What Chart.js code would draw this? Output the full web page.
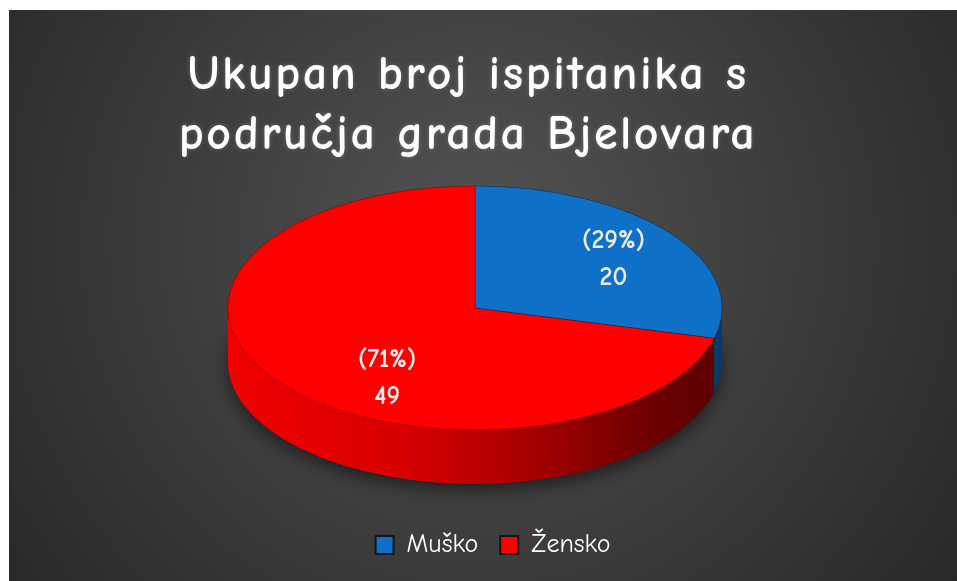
<!DOCTYPE html>
<html>
<head>
<meta charset="utf-8">
<script src="https://cdn.jsdelivr.net/npm/chart.js@4.4.1/dist/chart.umd.min.js"></script>
<style>
  html, body { margin: 0; padding: 0; background: #fff; }
  #wrap { position: absolute; left: 9px; top: 10px; width: 948px; height: 571px; }
</style>
</head>
<body>
<div id="wrap"><canvas id="c"></canvas></div>
<script>
// podaci
const categories = ['Muško', 'Žensko'];
const counts = [20, 49];
const titleLines = ['Ukupan broj ispitanika s', 'područja grada Bjelovara'];

const FONT = "'Comic Sans MS', 'Comic Neue', 'Open Sans', sans-serif";
const topColors = ['#0f70c8', '#ff0000'];
// pomak natpisa unutar isječka (fx, fy od polumjera)
const labelPlace = [[0.71, 0.66], [0.45, 0.93]];

function sideFill(ctx, i, x, r) {
  const g = ctx.createLinearGradient(x - r, 0, x + r, 0);
  if (i === 0) {
    g.addColorStop(0, '#0b4f90');
    g.addColorStop(1, '#083a68');
  } else {
    g.addColorStop(0, '#f00000');
    g.addColorStop(0.35, '#d80000');
    g.addColorStop(0.6, '#a80000');
    g.addColorStop(0.85, '#6e0000');
    g.addColorStop(1, '#5a0000');
  }
  return g;
}

const pie3d = {
  id: 'pie3d',
  beforeDraw(chart) {
    const { ctx, width, height } = chart;
    const g = ctx.createRadialGradient(470, 230, 20, 470, 230, 620);
    g.addColorStop(0, '#515151');
    g.addColorStop(1, '#262626');
    ctx.save();
    ctx.fillStyle = g;
    ctx.fillRect(0, 0, width, height);
    ctx.restore();
  },
  beforeDatasetsDraw(chart, args, opts) {
    const ctx = chart.ctx;
    const arcs = chart.getDatasetMeta(0).data;
    const a0 = arcs[0];
    const r = a0.outerRadius, k = opts.tilt;
    // bočne stijenke
    ctx.save();
    ctx.translate(opts.cx, opts.cy);
    ctx.scale(1, k);
    ctx.translate(-a0.x, -a0.y);
    for (let d = opts.depth; d >= 0; d--) {
      arcs.forEach((a, i) => {
        ctx.save();
        if (d === opts.depth) {
          ctx.shadowColor = 'rgba(0,0,0,0.55)';
          ctx.shadowBlur = 18;
          ctx.shadowOffsetY = 6;
        }
        ctx.beginPath();
        ctx.moveTo(a.x, a.y + d / k);
        ctx.arc(a.x, a.y + d / k, r, a.startAngle, a.endAngle);
        ctx.closePath();
        ctx.fillStyle = sideFill(ctx, i, a.x, r);
        ctx.fill();
        ctx.restore();
      });
    }
    ctx.restore();
    // gornja ploha
    ctx.save();
    ctx.translate(opts.cx, opts.cy);
    ctx.scale(1, k);
    ctx.translate(-a0.x, -a0.y);
  },
  afterDatasetsDraw(chart, args, opts) {
    const ctx = chart.ctx;
    ctx.restore();
    const arcs = chart.getDatasetMeta(0).data;
    const total = counts.reduce((s, v) => s + v, 0);
    ctx.save();
    ctx.fillStyle = '#ececec';
    ctx.font = 'bold 26px ' + FONT;
    ctx.textAlign = 'center';
    ctx.textBaseline = 'middle';
    arcs.forEach((a, i) => {
      const mid = (a.startAngle + a.endAngle) / 2;
      const r = a.outerRadius;
      const px = opts.cx + Math.cos(mid) * r * labelPlace[i][0];
      const py = opts.cy + Math.sin(mid) * r * opts.tilt * labelPlace[i][1];
      const pct = Math.round(counts[i] / total * 100);
      ctx.fillText('(' + pct + '%)', px, py - 18);
      ctx.fillText(String(counts[i]), px, py + 19);
    });
    ctx.restore();
  }
};

const chart = new Chart(document.getElementById('c'), {
  type: 'pie',
  data: {
    labels: categories,
    datasets: [{
      data: counts,
      backgroundColor: topColors,
      borderColor: 'rgba(0,0,0,0.35)',
      borderWidth: 1,
      radius: 247,
      clip: false
    }]
  },
  options: {
    responsive: true,
    maintainAspectRatio: false,
    animation: false,
    events: [],
    layout: { padding: { bottom: 13 } },
    plugins: {
      pie3d: { cx: 466, cy: 298, tilt: 0.494, depth: 54 },
      tooltip: { enabled: false },
      title: {
        display: true,
        text: titleLines,
        color: '#ffffff',
        font: { family: FONT, size: 48, weight: 'bold', lineHeight: 60 / 48 },
        padding: { top: 35, bottom: 10 }
      },
      legend: {
        position: 'bottom',
        labels: {
          color: '#ffffff',
          font: { family: FONT, size: 26 },
          boxWidth: 18,
          boxHeight: 18,
          padding: 22,
          generateLabels() {
            return categories.map((c, i) => ({
              text: c, fillStyle: topColors[i], strokeStyle: '#141414',
              lineWidth: 2, fontColor: '#ffffff', hidden: false, index: i
            }));
          }
        }
      }
    }
  },
  plugins: [pie3d]
});

// naslov s razmakom slova i blagim sjajem, legenda malo udesno
function tweakBlock(block, dx, spacing, glow) {
  const orig = block.draw.bind(block);
  block.draw = function (area) {
    const c = this.ctx;
    c.save();
    c.translate(dx, 0);
    if (spacing) c.letterSpacing = spacing;
    if (glow) { c.shadowColor = glow; c.shadowBlur = 5; }
    orig(area);
    c.restore();
  };
}
tweakBlock(chart.titleBlock, -15, '2.5px', 'rgba(255,255,255,0.2)');
tweakBlock(chart.legend, 10, null, null);
chart.draw();
</script>
</body>
</html>
